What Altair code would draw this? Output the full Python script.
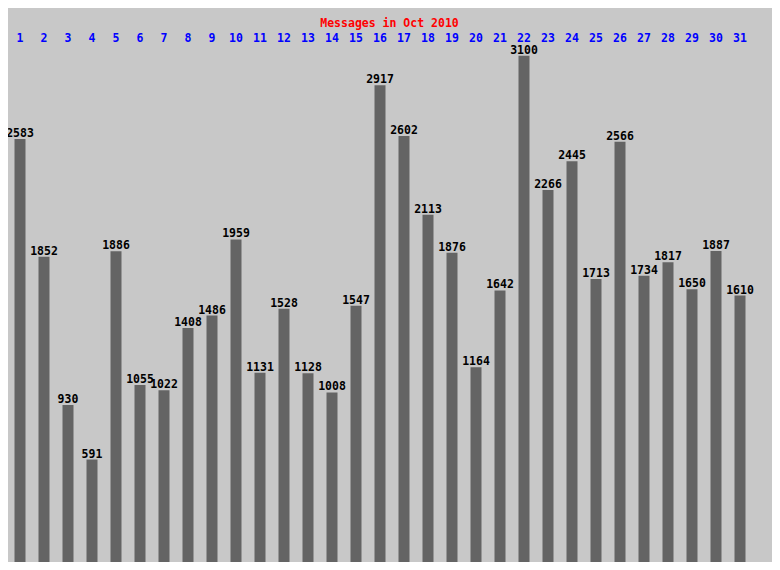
import altair as alt
import pandas as pd

days = list(range(1, 32))
messages = [2583, 1852, 930, 591, 1886, 1055, 1022, 1408, 1486, 1959,
            1131, 1528, 1128, 1008, 1547, 2917, 2602, 2113, 1876, 1164,
            1642, 3100, 2266, 2445, 1713, 2566, 1734, 1817, 1650, 1887, 1610]
title_text = "Messages in Oct 2010"

df = pd.DataFrame({"day": days, "messages": messages})

FONT = "DejaVu Sans Mono"
FS = 11.5
YMIN, YMAX = -45.4, 3167.0

x = alt.X("day:O", title=None,
          scale=alt.Scale(paddingInner=13 / 24, paddingOuter=13 / 48),
          axis=alt.Axis(orient="top", labelAngle=0, ticks=False, domain=False,
                        grid=False, labelColor="#0000ff", labelFont=FONT,
                        labelFontSize=FS, labelFontWeight="bold",
                        labelBaseline="alphabetic", labelPadding=4))
yscale = alt.Scale(domain=[YMIN, YMAX], zero=False, nice=False)

bars = alt.Chart(df).mark_bar(color="#646464", clip=True).encode(
    x=x,
    y=alt.Y("messages:Q", scale=yscale, axis=None),
    y2=alt.datum(YMIN),
)
labels = alt.Chart(df).mark_text(
    baseline="alphabetic", dy=-2, font=FONT, fontSize=FS, fontWeight="bold",
    color="#000000"
).encode(
    x=x,
    y=alt.Y("messages:Q", scale=yscale, axis=None),
    text="messages:Q",
)

chart = (bars + labels).properties(
    width=744, height=517,
    title=alt.TitleParams(title_text, color="#ff0000", font=FONT, fontSize=FS,
                          fontWeight="bold", anchor="middle", dx=9.5, offset=3),
    background="#c8c8c8",
    padding={"top": 37, "left": 0, "right": 20, "bottom": 0},
    autosize=alt.AutoSizeParams(type="none"),
).configure_view(strokeWidth=0)

chart.save("out.html", embed_options={"renderer": "svg", "actions": False})
